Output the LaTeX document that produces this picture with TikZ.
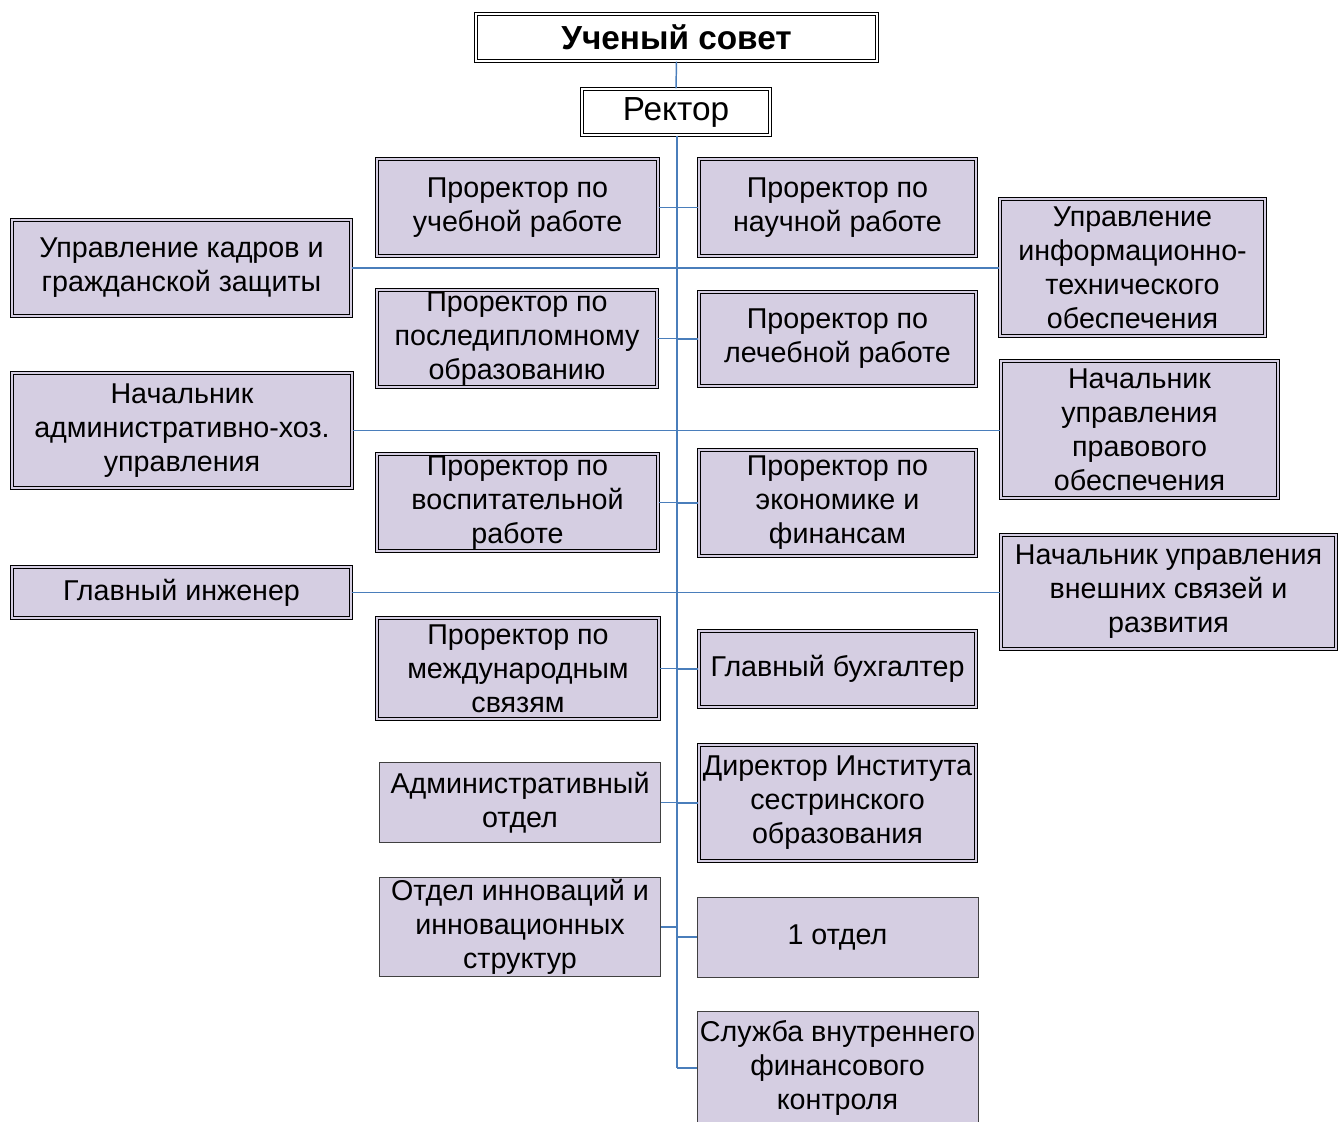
\documentclass[tikz,border=0pt]{standalone}
\usepackage{fontspec}
\setmainfont{Liberation Sans}
\definecolor{boxfill}{RGB}{213,206,226}
\definecolor{linkblue}{RGB}{74,126,187}
\begin{document}
\begin{tikzpicture}[x=0.75pt,y=-0.75pt,
  sz/.style 2 args={minimum width=#1*0.75pt, minimum height=#2*0.75pt},
  base/.style={inner sep=0pt, align=center, font=\fontsize{21.5pt}{25.5pt}\selectfont},
  dbox/.style={base, draw=black, line width=1pt, double=boxfill, double distance=1.4pt, fill=boxfill},
  wbox/.style={base, draw=black, line width=1pt, double=white, double distance=1.4pt, fill=white},
  sbox/.style={base, draw=black!75, line width=0.6pt, fill=boxfill},
  link/.style={draw=linkblue, line width=1.1pt},
  trunk/.style={draw=linkblue, line width=1.5pt}]
\useasboundingbox (0,0) rectangle (1340,1122);

\node[wbox, sz={401}{47}, font=\fontsize{25pt}{30pt}\selectfont\bfseries] (sovet) at (676.5,37.5) {Ученый совет};
\node[wbox, sz={188}{46}, font=\fontsize{25pt}{30pt}\selectfont] (rektor) at (676,112) {Ректор};

% left column
\node[dbox, sz={281}{97}] (uch) at (517.5,207.5) {Проректор по\\учебной работе};
\node[dbox, sz={280}{97}] (posl) at (517,338.5) {Проректор по\\последипломному\\образованию};
\node[dbox, sz={281}{97}] (vosp) at (517.5,502.5) {Проректор по\\воспитательной\\работе};
\node[dbox, sz={282}{101}] (mezh) at (518,668.5) {Проректор по\\международным\\связям};
\node[sbox, sz={281}{80}] (admo) at (520,802.5) {Административный\\отдел};
\node[sbox, sz={281}{99}] (innov) at (520,927) {Отдел инноваций и\\инновационных\\структур};

% right column
\node[dbox, sz={277}{97}] (nauch) at (837.5,207.5) {Проректор по\\научной работе};
\node[dbox, sz={277}{94}] (lech) at (837.5,339) {Проректор по\\лечебной работе};
\node[dbox, sz={277}{106}] (econ) at (837.5,503) {Проректор по\\экономике и\\финансам};
\node[dbox, sz={277}{76}] (buh) at (837.5,669) {Главный бухгалтер};
\node[dbox, sz={277}{116}] (dir) at (837.5,803) {Директор Института\\сестринского\\образования};
\node[sbox, sz={281}{80}] (otd1) at (837.5,937) {1 отдел};
\node[sbox, sz={281}{114}] (sluzh) at (837.5,1068) {Служба внутреннего\\финансового\\контроля};

% far left
\node[dbox, sz={339}{96}] (kadry) at (181.5,268) {Управление кадров и\\гражданской защиты};
\node[dbox, sz={340}{115}] (ahu) at (182,430.5) {Начальник\\административно-хоз.\\управления};
\node[dbox, sz={339}{51}] (inzh) at (181.5,592.5) {Главный инженер};

% far right
\node[dbox, sz={265}{137}] (info) at (1132.5,267.5) {Управление\\информационно-\\технического\\обеспечения};
\node[dbox, sz={277}{137}] (pravo) at (1139.5,429.5) {Начальник\\управления\\правового\\обеспечения};
\node[dbox, sz={335}{114}] (vnesh) at (1168.5,592) {Начальник управления\\внешних связей и\\развития};

\coordinate (tb) at (677,1068);

% connectors
\draw[link] (sovet.south) -- (rektor.north);
\draw[trunk] (rektor.south -| tb) -- (tb);

\foreach \n in {uch,posl,vosp,mezh,admo,innov}
  \draw[link] (\n.east) -- (\n.east -| tb);
\foreach \n in {nauch,lech,econ,buh,dir,otd1,sluzh}
  \draw[link] (\n.west -| tb) -- (\n.west);

\draw[link] (kadry.east) -- (kadry.east -| info.west);
\draw[link] (ahu.east) -- (ahu.east -| pravo.west);
\draw[link] (inzh.east) -- (inzh.east -| vnesh.west);
\end{tikzpicture}
\end{document}
